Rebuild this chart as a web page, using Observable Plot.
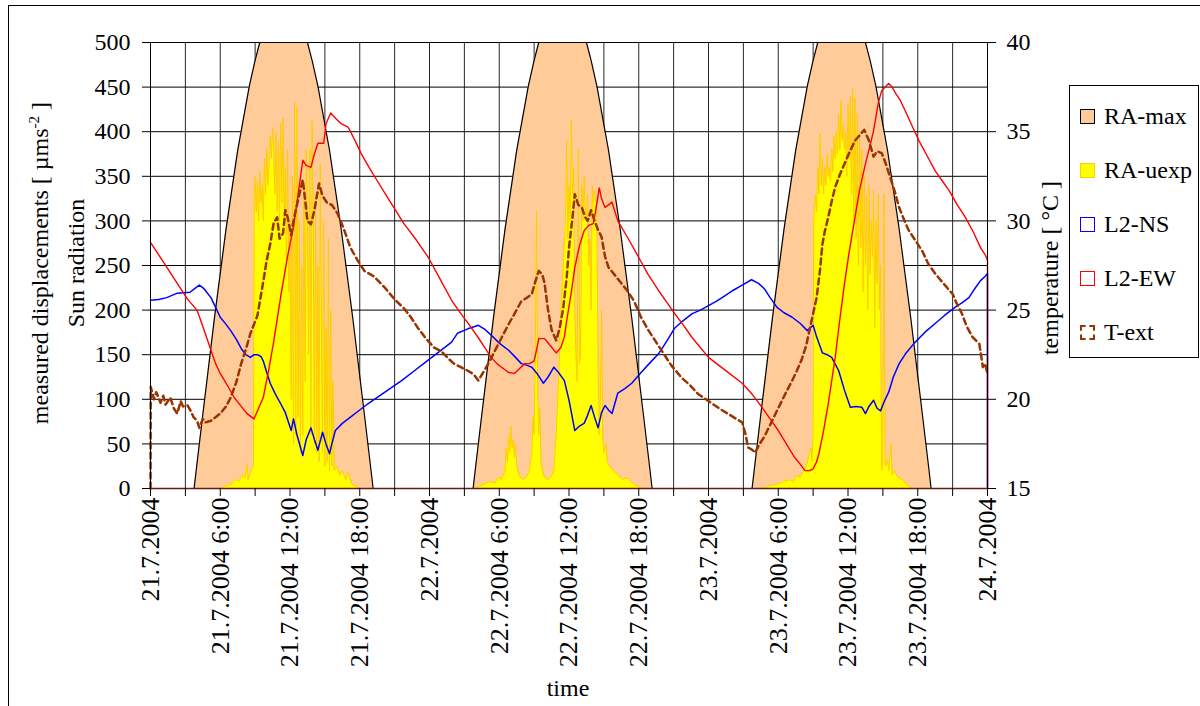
<!DOCTYPE html>
<html>
<head>
<meta charset="utf-8">
<script src="https://cdn.jsdelivr.net/npm/d3@7"></script>
<script src="https://cdn.jsdelivr.net/npm/@observablehq/plot@0.6"></script>
<style>
  body { margin: 0; background: #fff; overflow: hidden; }
  #wrap { position: relative; width: 1200px; height: 706px; font-family: "Liberation Serif", "DejaVu Serif", serif; color: #000; }
  #border { position: absolute; left: 8px; top: 5px; width: 1400px; height: 900px; border-left: 1px solid #000; border-top: 1px solid #000; pointer-events: none; }
  #chart { position: absolute; left: 0; top: 0; }
  #chart svg, #chart svg text { font-family: "Liberation Serif", "DejaVu Serif", serif !important; }
  #chart svg g[aria-label="x-axis tick label"] { font-size: 26px; }
  .ttl { position: absolute; font-size: 24px; white-space: nowrap; text-align: center; }
  #ylab { left: 58px; top: 263px; line-height: 36px; transform: translate(-50%, -50%) rotate(-90deg); }
  #ylab2 { left: 1050px; top: 268px; line-height: 30px; transform: translate(-50%, -50%) rotate(-90deg); }
  #xlab { left: 568px; top: 688px; transform: translate(-50%, -50%); }
  sup { font-size: 15px; vertical-align: 9px; line-height: 0; }
  #legend { position: absolute; left: 1069px; top: 85px; width: 128px; height: 271px; border: 1px solid #000; background: #fff; }
  .item { position: absolute; left: 10px; height: 30px; display: flex; align-items: center; font-size: 24px; }
  .sw { width: 13px; height: 13px; margin-right: 9px; box-sizing: content-box; }
</style>
</head>
<body>
<div id="wrap">
  <div id="chart"></div>
  <div id="border"></div>
  <div class="ttl" id="ylab">measured displacements [ µms<sup>-2</sup> ]<br>Sun radiation</div>
  <div class="ttl" id="ylab2">temperature [ °C ]</div>
  <div class="ttl" id="xlab">time</div>
  <div id="legend"></div>
</div>
<script>
// ---------- data (hours since 21.7.2004 0:00, values) ----------
const leftTicks = [0, 50, 100, 150, 200, 250, 300, 350, 400, 450, 500];
const tempTicks = [15, 20, 25, 30, 35, 40];
const xLabelHours = [0, 6, 12, 18, 24, 30, 36, 42, 48, 54, 60, 66, 72];
const xLabels = ["21.7.2004", "21.7.2004 6:00", "21.7.2004 12:00", "21.7.2004 18:00",
  "22.7.2004", "22.7.2004 6:00", "22.7.2004 12:00", "22.7.2004 18:00",
  "23.7.2004", "23.7.2004 6:00", "23.7.2004 12:00", "23.7.2004 18:00", "24.7.2004"];

const seriesNames = ["RA-max", "RA-uexp", "L2-NS", "L2-EW", "T-ext"];

// RA-max envelope (clipped at top of chart)
const raMax1 = [[3.75,0],[4.0,28],[4.5,83],[5.5,191],[6.5,291],[7.5,379],[8.5,451],[9.0,480],[9.4,500],[13.5,500],[13.9,480],[14.4,451],[15.4,379],[16.4,291],[17.4,191],[18.4,83],[18.9,28],[19.15,0]];
const raMax2 = [[27.75,0],[28.0,28],[28.5,83],[29.5,191],[30.5,291],[31.5,379],[32.5,451],[33.0,480],[33.4,500],[37.5,500],[37.9,480],[38.4,451],[39.4,379],[40.4,291],[41.4,191],[42.4,83],[42.9,28],[43.15,0]];
const raMax3 = [[51.75,0],[52.0,28],[52.5,83],[53.5,191],[54.5,291],[55.5,379],[56.5,451],[57.0,480],[57.4,500],[61.5,500],[61.9,480],[62.4,451],[63.4,379],[64.4,291],[65.4,191],[66.4,83],[66.9,28],[67.15,0]];

// RA-uexp (measured sun radiation)
const raUexp1 = [[6.0,0],[6.5,3],[7.0,5],[7.3,10],[7.6,8],[7.9,15],[8.1,12],[8.3,28],[8.4,10],[8.6,18],[8.85,25],
 [8.93,330],[9.0,350],[9.1,310],[9.2,345],[9.3,300],[9.4,356],[9.5,320],[9.6,340],[9.7,300],[9.8,370],[9.9,330],[10.0,382],[10.1,340],[10.2,360],[10.3,395],[10.4,370],[10.5,405],[10.6,380],[10.7,330],[10.8,400],[10.9,310],[11.0,390],[11.1,300],[11.2,410],[11.3,320],[11.4,415],[11.5,300],[11.6,360],[11.7,250],[11.8,380],[11.9,220],[12.0,300],[12.1,100],[12.2,350],[12.3,50],[12.4,433],[12.5,60],[12.6,427],[12.7,80],[12.8,300],[12.9,40],[13.0,250],[13.1,60],[13.2,340],[13.3,120],[13.4,380],[13.5,300],[13.6,150],[13.7,380],[13.8,60],[13.9,412],[14.0,300],[14.1,50],[14.2,330],[14.3,40],[14.4,250],[14.5,30],[14.6,364],[14.7,200],[14.8,40],[14.9,300],[15.0,25],[15.1,180],[15.2,30],[15.3,280],[15.4,20],[15.5,200],[15.6,25],[15.7,120],[15.8,20],[16.0,25],[16.3,15],[16.5,20],[16.8,10],[17.0,18],[17.3,5],[17.6,3],[18.0,0]];
const raUexp2 = [[28.0,0],[28.3,3],[28.8,5],[29.2,8],[29.6,6],[29.9,12],[30.2,10],[30.5,20],[30.6,45],[30.7,30],[30.8,60],[30.9,40],[31.0,70],[31.1,45],[31.2,55],[31.3,35],[31.4,50],[31.5,25],[31.7,15],[32.0,10],[32.3,12],[32.6,20],[32.8,40],[32.9,80],[33.0,60],[33.1,150],[33.2,312],[33.3,120],[33.4,60],[33.5,90],[33.6,30],[33.8,15],[34.1,10],[34.4,12],[34.7,20],[34.9,60],[35.1,120],[35.3,200],[35.5,250],[35.7,300],[35.8,390],[35.9,280],[36.0,340],[36.1,300],[36.2,413],[36.3,330],[36.4,360],[36.5,200],[36.6,150],[36.7,120],[36.8,380],[36.9,140],[37.0,150],[37.1,340],[37.2,300],[37.3,350],[37.4,310],[37.5,300],[37.6,330],[37.7,250],[37.8,280],[37.9,200],[38.0,340],[38.1,320],[38.2,334],[38.3,320],[38.4,300],[38.5,150],[38.6,60],[38.7,100],[38.8,200],[38.9,60],[39.0,40],[39.2,50],[39.3,30],[39.5,25],[39.8,20],[40.2,15],[40.6,10],[41.0,12],[41.5,5],[42.0,2],[42.3,0]];
const raUexp3 = [[52.5,0],[53.0,2],[53.5,4],[54.0,5],[54.5,8],[55.0,10],[55.3,7],[55.6,15],[55.9,12],[56.2,20],[56.4,25],[56.6,35],[56.8,46],[56.9,30],[57.0,60],[57.05,300],[57.2,330],[57.3,310],[57.4,360],[57.5,330],[57.6,398],[57.7,340],[57.8,370],[57.9,330],[58.0,360],[58.1,340],[58.2,375],[58.3,350],[58.4,360],[58.5,345],[58.6,380],[58.7,355],[58.8,395],[58.9,370],[59.0,400],[59.1,375],[59.2,420],[59.3,380],[59.4,435],[59.5,390],[59.6,410],[59.7,380],[59.8,400],[59.9,350],[60.0,430],[60.1,370],[60.2,440],[60.3,330],[60.4,448],[60.5,300],[60.6,438],[60.7,280],[60.8,420],[60.9,250],[61.0,400],[61.1,270],[61.2,380],[61.3,220],[61.4,350],[61.5,250],[61.6,330],[61.7,200],[61.8,340],[61.9,240],[62.0,300],[62.1,260],[62.2,334],[62.3,180],[62.4,300],[62.5,230],[62.6,330],[62.7,200],[62.8,250],[62.9,20],[63.0,30],[63.1,330],[63.2,25],[63.4,31],[63.5,20],[63.7,50],[63.8,15],[64.0,20],[64.3,12],[64.7,10],[65.0,5],[65.5,0]];

// L2-NS displacement
const l2NS = [[0,211],[0.7,212],[1.4,214],[2.3,219],[3.4,220],[3.8,224],[4.2,228],[4.6,224],[5.2,214],[5.6,203],[6.0,192],[6.5,184],[6.9,177],[7.4,167],[7.8,157],[8.2,150],[8.6,147],[8.9,150],[9.2,150],[9.5,148],[9.7,143],[10.0,130],[10.3,118],[10.7,107],[11.2,95],[11.6,85],[12.1,65],[12.3,78],[12.6,60],[13.1,37],[13.4,55],[13.8,68],[14.1,55],[14.4,43],[14.8,63],[15.1,50],[15.4,39],[15.6,50],[15.9,65],[16.5,73],[17.2,80],[18.0,88],[18.7,95],[19.6,103],[20.6,112],[21.6,121],[22.7,132],[23.8,143],[24.9,154],[25.9,164],[26.4,174],[27.3,179],[28.2,183],[28.8,178],[29.3,172],[30.0,163],[30.8,155],[31.4,147],[31.9,140],[32.4,138],[32.8,136],[33.3,128],[33.8,118],[34.2,125],[34.7,136],[35.1,130],[35.6,121],[36.0,99],[36.5,65],[36.9,70],[37.3,73],[37.6,82],[37.9,93],[38.2,80],[38.5,68],[38.8,85],[39.1,93],[39.4,88],[39.7,84],[40.2,107],[40.8,112],[41.4,118],[42.2,130],[42.9,140],[43.7,151],[44.4,165],[45.1,180],[45.8,188],[46.6,196],[47.3,200],[48.0,205],[48.7,210],[49.4,216],[50.1,222],[50.9,228],[51.7,234],[52.3,230],[52.8,224],[53.3,214],[53.9,203],[54.5,197],[55.2,192],[55.9,185],[56.5,177],[57.0,183],[57.3,170],[57.8,152],[58.2,150],[58.6,147],[59.2,132],[59.7,110],[60.2,91],[60.7,92],[61.2,91],[61.5,84],[61.8,92],[62.2,99],[62.5,90],[62.8,87],[63.1,97],[63.5,108],[63.9,125],[64.4,140],[65.0,152],[65.7,163],[66.6,175],[67.5,185],[68.3,194],[69.2,203],[69.8,208],[70.4,214],[70.9,224],[71.4,233],[71.8,238],[72,241],[72,0]];

// L2-EW displacement
const l2EW = [[0,276],[1.2,252],[2.3,230],[3.2,212],[4.0,200],[4.6,178],[5.2,155],[5.6,140],[6.0,129],[6.6,116],[7.2,102],[7.8,92],[8.3,84],[8.9,78],[9.3,90],[9.7,102],[10.2,135],[10.6,165],[11.2,215],[11.8,261],[12.3,293],[12.7,330],[13.1,368],[13.4,362],[13.8,360],[14.1,375],[14.4,387],[14.9,387],[15.1,409],[15.5,421],[16.0,414],[16.4,409],[17.0,405],[17.6,390],[18.1,376],[18.8,360],[19.5,345],[20.6,322],[21.8,297],[22.9,278],[23.9,259],[24.9,235],[25.9,211],[26.7,196],[27.5,182],[28.2,169],[28.8,157],[29.3,147],[29.8,140],[30.2,136],[30.8,130],[31.3,129],[31.8,135],[32.2,140],[32.6,140],[33.0,143],[33.2,155],[33.4,168],[33.9,168],[34.4,160],[34.9,152],[35.3,158],[35.6,170],[35.8,188],[36.2,220],[36.5,248],[36.9,272],[37.3,289],[37.7,295],[38.1,297],[38.4,320],[38.6,337],[38.8,325],[39.1,315],[39.4,318],[39.7,321],[40.2,300],[41.1,280],[42.0,259],[42.8,240],[43.7,222],[44.4,209],[45.1,196],[45.9,182],[46.6,169],[47.3,158],[48.0,147],[49.4,133],[50.9,118],[51.8,105],[52.6,91],[53.3,78],[54.0,65],[54.7,50],[55.4,35],[55.9,27],[56.3,20],[56.7,20],[57.0,22],[57.3,30],[57.5,39],[57.9,65],[58.3,95],[58.9,147],[59.3,190],[59.7,230],[60.1,265],[60.6,304],[61.0,335],[61.5,364],[61.9,385],[62.2,401],[62.6,432],[62.9,446],[63.2,450],[63.5,454],[63.8,450],[64.1,443],[64.5,435],[64.9,424],[65.5,407],[66.1,390],[66.8,373],[67.5,356],[68.1,345],[68.7,334],[69.4,318],[70.1,304],[70.8,287],[71.4,270],[71.8,262],[72,256],[72,0]];

// T-ext temperature (°C, right axis)
const tExt = [[0,15],[0.02,20.7],[0.3,20.0],[0.5,20.4],[0.86,19.8],[1.1,20.2],[1.3,19.7],[1.7,20.1],[2.0,19.5],[2.3,19.2],[2.6,19.9],[2.8,19.6],[3.2,19.65],[3.5,19.3],[3.7,19.0],[4.0,18.8],[4.2,18.4],[4.5,18.9],[4.7,18.7],[5.2,18.8],[5.6,19.0],[6.0,19.2],[6.5,19.6],[6.9,20.1],[7.4,21.0],[7.8,22.0],[8.2,22.8],[8.6,23.7],[9.2,24.7],[9.7,26.6],[10.0,27.8],[10.3,28.7],[10.6,29.9],[10.9,30.2],[11.1,29.0],[11.4,29.3],[11.6,30.6],[11.8,30.2],[12.1,29.2],[12.3,30.0],[12.7,31.2],[13.1,32.3],[13.3,31.2],[13.5,30.0],[13.8,29.8],[14.1,30.6],[14.5,32.1],[14.8,31.4],[15.2,31.0],[15.6,30.9],[16.1,30.4],[16.6,29.6],[17.2,28.5],[17.8,27.8],[18.4,27.2],[19.2,26.9],[20.1,26.3],[21.0,25.6],[21.8,25.1],[22.4,24.6],[23.0,24.0],[23.7,23.4],[24.4,22.9],[25.0,22.7],[25.6,22.3],[26.1,22.0],[26.7,21.8],[27.3,21.6],[27.8,21.4],[28.2,21.05],[28.7,21.6],[29.3,22.3],[30.0,23.2],[30.8,24.2],[31.4,24.9],[31.9,25.5],[32.4,25.7],[32.8,25.9],[33.1,26.6],[33.4,27.2],[33.7,27.0],[33.9,26.5],[34.2,25.0],[34.5,23.9],[34.9,23.3],[35.2,24.0],[35.5,25.1],[35.8,26.8],[36.0,28.5],[36.3,30.2],[36.5,31.5],[36.8,30.9],[37.1,30.75],[37.4,30.2],[37.6,30.0],[37.9,30.6],[38.2,30.0],[38.5,29.5],[38.8,29.1],[39.1,28.0],[39.4,27.4],[39.9,27.0],[40.5,26.5],[41.0,26.1],[41.6,25.5],[42.2,24.6],[42.8,23.9],[43.4,23.3],[44.0,22.7],[44.8,21.9],[45.7,21.2],[46.4,20.8],[47.1,20.3],[48.0,19.9],[48.9,19.5],[49.9,19.1],[50.9,18.7],[51.2,18.0],[51.4,17.3],[51.7,17.2],[52.0,17.0],[52.4,17.5],[52.8,17.9],[53.4,18.7],[54.0,19.5],[54.6,20.3],[55.2,21.05],[55.6,21.6],[56.0,22.2],[56.4,23.0],[56.7,23.9],[57.0,24.8],[57.3,25.7],[57.6,27.3],[57.8,28.7],[58.0,29.4],[58.3,30.2],[58.6,31.1],[58.9,31.9],[59.3,32.6],[59.7,33.2],[60.1,33.8],[60.6,34.5],[61.0,34.8],[61.4,35.1],[61.8,34.5],[62.2,33.6],[62.5,33.9],[62.9,33.8],[63.2,33.3],[63.5,32.7],[64.0,31.7],[64.4,30.75],[64.8,30.1],[65.2,29.5],[65.8,28.9],[66.4,28.3],[66.9,27.6],[67.5,27.05],[68.2,26.5],[69.0,25.9],[69.4,25.3],[69.8,24.8],[70.2,24.1],[70.7,23.5],[71.0,23.3],[71.3,23.1],[71.6,21.8],[71.8,22.0],[72.0,21.4]];

// ---------- build ----------
const T0 = Date.UTC(2004, 6, 21);
const toDate = h => new Date(T0 + h * 3600000);
const toRows = (pairs, extra = {}) => pairs.map(([h, v]) => ({t: toDate(h), v, ...extra}));
const tempToLeft = t => (t - 15) * 20;   // 15..40 °C  ->  0..500

const raMaxRows = [raMax1, raMax2, raMax3].flatMap((d, i) => toRows(d, {day: i}));
const raUexpRows = [raUexp1, raUexp2, raUexp3].flatMap((d, i) => toRows(d, {day: i}));
const nsRows = toRows(l2NS);
const ewRows = toRows(l2EW);
const tRows = tExt.map(([h, t]) => ({t: toDate(h), v: tempToLeft(t)}));

const gridHours = d3.utcHour.every(3).range(toDate(0), toDate(72.01));
const labelDates = xLabelHours.map(toDate);
const fmtX = d => xLabels[xLabelHours.indexOf(Math.round((d - T0) / 3600000))];

const colors = {"RA-max": "#FFCC99", "RA-uexp": "#FFFF00", "L2-NS": "#0000FF", "L2-EW": "#FF0000", "T-ext": "#993300"};
const serif = "Liberation Serif, DejaVu Serif, serif";

const chart = Plot.plot({
  width: 1200,
  height: 706,
  marginLeft: 150,
  marginRight: 213,
  marginTop: 42,
  marginBottom: 218,
  x: {type: "utc", domain: [toDate(0), toDate(72)]},
  y: {domain: [0, 500]},
  style: {fontFamily: serif, fontSize: "24px", background: "transparent", color: "#000", overflow: "visible"},
  marks: [
    Plot.ruleY(leftTicks, {stroke: "#000", strokeWidth: 1}),
    Plot.ruleX(gridHours, {stroke: "#000", strokeOpacity: 0.85, strokeWidth: 1}),
    Plot.areaY(raMaxRows, {x: "t", y: "v", z: "day", fill: colors["RA-max"], curve: "linear"}),
    Plot.lineY(raMaxRows, {x: "t", y: "v", z: "day", stroke: "#000", strokeWidth: 1.2}),
    Plot.areaY(raUexpRows, {x: "t", y: "v", z: "day", fill: colors["RA-uexp"]}),
    Plot.lineY(raUexpRows, {x: "t", y: "v", z: "day", stroke: "#FFCC00", strokeWidth: 1}),
    Plot.lineY(nsRows, {x: "t", y: "v", stroke: colors["L2-NS"], strokeWidth: 1.5}),
    Plot.lineY(ewRows, {x: "t", y: "v", stroke: colors["L2-EW"], strokeWidth: 1.4}),
    Plot.lineY(tRows, {x: "t", y: "v", stroke: colors["T-ext"], strokeWidth: 2.5, strokeDasharray: "6,4"}),
    Plot.ruleY([0], {stroke: "#6b1a10", strokeWidth: 1.5}),
    Plot.ruleX([toDate(0), toDate(72)], {stroke: "#000", strokeWidth: 1}),
    Plot.axisY(leftTicks, {anchor: "left", tickSize: 8, tickPadding: 12, fontSize: 24, fontFamily: serif, label: null}),
    Plot.axisY(tempTicks.map(tempToLeft), {anchor: "right", tickSize: 8, tickPadding: 11, fontSize: 24, fontFamily: serif, label: null, tickFormat: d => String(d / 20 + 15)}),
    Plot.axisX(gridHours, {anchor: "bottom", tickSize: 8, tickFormat: () => "", label: null}),
    Plot.axisX(labelDates, {anchor: "bottom", tickSize: 0, tickPadding: 9, tickRotate: -90, fontSize: 26, fontFamily: serif, tickFormat: fmtX, label: null})
  ]
});
document.getElementById("chart").appendChild(chart);

// legend
const legend = document.getElementById("legend");
const legendTops = [15, 69, 123, 177, 231];
seriesNames.forEach((name, i) => {
  const item = document.createElement("div");
  item.className = "item";
  item.style.top = legendTops[i] + "px";
  const sw = document.createElement("span");
  sw.className = "sw";
  if (name === "RA-max") { sw.style.background = colors[name]; sw.style.border = "1px solid #000"; }
  else if (name === "RA-uexp") { sw.style.background = colors[name]; sw.style.border = "1px solid #FFCC00"; }
  else if (name === "T-ext") { sw.style.border = "2px dashed " + colors[name]; sw.style.width = "11px"; sw.style.height = "11px"; }
  else { sw.style.border = "1px solid " + colors[name]; }
  item.appendChild(sw);
  const lab = document.createElement("span");
  lab.textContent = name;
  item.appendChild(lab);
  legend.appendChild(item);
});
</script>
</body>
</html>
